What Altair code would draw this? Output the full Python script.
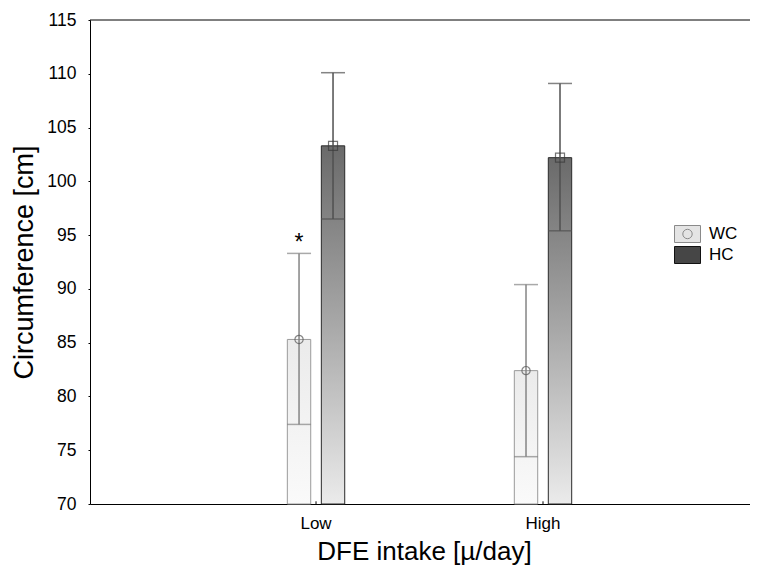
import altair as alt
import pandas as pd

groups = ["Low", "High"]
series = ["WC", "HC"]
means = {"WC": [85.3, 82.4], "HC": [103.3, 102.2]}
lower = {"WC": [77.4, 74.4], "HC": [96.5, 95.4]}
upper = {"WC": [93.3, 90.4], "HC": [110.1, 109.1]}
sig = {"WC": ["*", ""], "HC": ["", ""]}
y_ticks = [70, 75, 80, 85, 90, 95, 100, 105, 110, 115]

rows = []
for s in series:
    for i, g in enumerate(groups):
        rows.append({"group": g, "series": s, "mean": means[s][i],
                     "lo": lower[s][i], "hi": upper[s][i], "sig": sig[s][i]})
df = pd.DataFrame(rows)

FONT = "Liberation Sans"

x_enc = alt.X("group:N", sort=groups,
              scale=alt.Scale(range=[0, 668], paddingInner=0.7, paddingOuter=0.8215, align=0.5148),
              axis=alt.Axis(title="DFE intake [µ/day]", labelAngle=0, ticks=False, tickSize=0,
                            labelPadding=11, titlePadding=7, labelFontSize=17,
                            titleFontSize=26, domainColor="black", labelColor="black",
                            titleColor="black"))
xo_enc = alt.XOffset("series:N", sort=series,
                     scale=alt.Scale(paddingInner=0.312, paddingOuter=0.1575))
y_scale = alt.Scale(domain=[70, 115], nice=False, zero=False)
y_axis = alt.Axis(values=y_ticks, title="Circumference [cm]", tickSize=2, labelPadding=12,
                  titlePadding=8, labelFontSize=17.5, titleFontSize=27, grid=False,
                  domainColor="black", tickColor="black", labelColor="black",
                  titleColor="black")

base = alt.Chart(df)

grad_wc = alt.LinearGradient(gradient="linear", x1=0, x2=0, y1=0, y2=1,
                             stops=[alt.GradientStop(color="#ebebeb", offset=0),
                                    alt.GradientStop(color="#fafafa", offset=1)])
grad_hc = alt.LinearGradient(gradient="linear", x1=0, x2=0, y1=0, y2=1,
                             stops=[alt.GradientStop(color="#6a6a6a", offset=0),
                                    alt.GradientStop(color="#a8a8a8", offset=0.5),
                                    alt.GradientStop(color="#ebebeb", offset=1)])

bars_wc = base.transform_filter(alt.datum.series == "WC").mark_bar(
    fill=grad_wc, stroke="#9a9a9a", strokeWidth=1).encode(
    x=x_enc, xOffset=xo_enc,
    y=alt.Y("mean:Q", scale=y_scale, axis=y_axis),
    y2=alt.Y2(datum=70))
bars_hc = base.transform_filter(alt.datum.series == "HC").mark_bar(
    fill=grad_hc, stroke="#2a2a2a", strokeWidth=1).encode(
    x=x_enc, xOffset=xo_enc,
    y=alt.Y("mean:Q", scale=y_scale, axis=y_axis),
    y2=alt.Y2(datum=70))

err_color = alt.Color("series:N", scale=alt.Scale(domain=series, range=["#858585", "#505050"]),
                      legend=None)
rules = base.mark_rule(strokeWidth=1.5).encode(
    x=x_enc, xOffset=xo_enc, y=alt.Y("lo:Q", scale=y_scale), y2="hi:Q", color=err_color)
caps_hi = base.mark_tick(thickness=1.5, size=24).encode(
    x=x_enc, xOffset=xo_enc, y=alt.Y("hi:Q", scale=y_scale), color=err_color)
caps_lo = base.mark_tick(thickness=1.5, size=24).encode(
    x=x_enc, xOffset=xo_enc, y=alt.Y("lo:Q", scale=y_scale), color=err_color)

pt_wc = base.transform_filter(alt.datum.series == "WC").mark_point(
    shape="circle", size=68, filled=False, stroke="#555555", strokeWidth=1.2).encode(
    x=x_enc, xOffset=xo_enc, y=alt.Y("mean:Q", scale=y_scale))
pt_hc = base.transform_filter(alt.datum.series == "HC").mark_point(
    shape="square", size=81, filled=False, stroke="#3a3a3a", strokeWidth=1.2).encode(
    x=x_enc, xOffset=xo_enc, y=alt.Y("mean:Q", scale=y_scale))

star = base.transform_filter(alt.datum.sig != "").mark_text(
    font=FONT, fontSize=23, baseline="alphabetic", dy=-3, color="black").encode(
    x=x_enc, xOffset=xo_enc, y=alt.Y("hi:Q", scale=y_scale), text="sig:N")

top_line = alt.Chart(pd.DataFrame({"v": [115]})).mark_rule(color="black", strokeWidth=1).encode(
    y=alt.Y("v:Q", scale=y_scale))
xtick = alt.Chart(pd.DataFrame({"group": groups})).mark_rule(color="black", strokeWidth=1).encode(
    x=x_enc, y=alt.Y(datum=70, scale=y_scale), y2=alt.Y2(datum=70.25))

path_wc = ("M-1.3,-0.85L1.3,-0.85L1.3,0.85L-1.3,0.85Z"
           "M0.47,0A0.47,0.47 0 1,1 -0.47,0A0.47,0.47 0 1,1 0.47,0Z")
path_hc = "M-1.3,-0.85L1.3,-0.85L1.3,0.85L-1.3,0.85Z"
leg = alt.Legend(title=None, orient="none", legendX=587, legendY=203.5, symbolSize=400,
                 labelFontSize=17, labelOffset=11, rowPadding=0, labelFont=FONT,
                 labelColor="black", symbolStrokeWidth=1)
legend_layer = alt.Chart(pd.DataFrame({"series": series})).transform_filter("false").mark_point(
    opacity=1).encode(
    fill=alt.Fill("series:N", scale=alt.Scale(domain=series, range=["#e4e4e4", "#464646"]), legend=leg),
    stroke=alt.Stroke("series:N", scale=alt.Scale(domain=series, range=["#8a8a8a", "#111111"]), legend=leg),
    shape=alt.Shape("series:N", scale=alt.Scale(domain=series, range=[path_wc, path_hc]), legend=leg))

chart = alt.layer(bars_wc, bars_hc, rules, caps_hi, caps_lo, pt_wc, pt_hc, star,
                  top_line, xtick, legend_layer).resolve_scale(color="independent").properties(
    width=660, height=484, autosize="none",
    padding={"left": 82, "top": 12, "right": 0, "bottom": 64}
).configure_view(stroke=None).configure_axis(
    labelFont=FONT, titleFont=FONT, titleFontWeight="normal", domainWidth=1
).configure_text(font=FONT)

chart.save("out.html", embed_options={"renderer": "svg", "actions": False})
